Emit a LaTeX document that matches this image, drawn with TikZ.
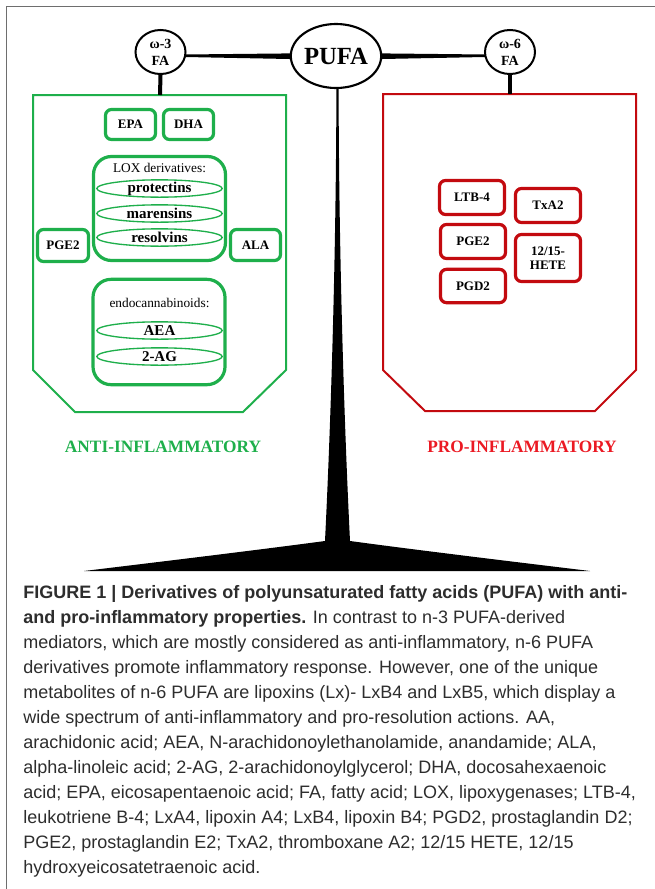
\documentclass[tikz,border=0pt]{standalone}
\usepackage{fontspec}
\setmainfont{Liberation Serif}
\newfontfamily\capfont{Liberation Sans}
\usetikzlibrary{shapes.geometric}
\definecolor{grn}{RGB}{30,175,75}
\definecolor{dred}{RGB}{195,10,15}
\definecolor{bred}{RGB}{235,25,35}
\definecolor{framegray}{RGB}{110,110,110}
\definecolor{captxt}{RGB}{45,45,45}
\begin{document}
\begin{tikzpicture}[x=0.75pt,y=-0.75pt,
  facircle/.style={ellipse,draw=black,line width=1.5pt,fill=white,minimum width=37.5pt,minimum height=33pt,inner sep=0pt},
  fatxt/.style={inner sep=0pt,align=center,font=\bfseries\fontsize{10.5}{12.75}\selectfont},
  pufanode/.style={ellipse,draw=black,line width=1.6pt,fill=white,minimum width=55.5pt,minimum height=48pt,inner sep=0pt,font=\bfseries\fontsize{18.5}{20}\selectfont},
  gbox/.style={draw=grn,line width=2.4pt,rounded corners=4.5pt,fill=white,inner sep=0pt,font=\bfseries\fontsize{9.75}{11}\selectfont},
  rbox/.style={draw=dred,line width=2.4pt,rounded corners=4.5pt,fill=white,inner sep=0pt,align=center,font=\bfseries\fontsize{9.75}{10.75}\selectfont,minimum width=48.75pt},
  bigbox/.style={draw=grn,line width=2.4pt,rounded corners=13.5pt,fill=white,inner sep=0pt,minimum width=99pt,minimum height=78pt},
  gell/.style={ellipse,draw=grn,line width=1pt,fill=white,inner sep=0pt,minimum width=94pt,minimum height=13pt},
  elltxt/.style={inner sep=0pt,font=\bfseries\fontsize{11.25}{12}\selectfont},
  hdtxt/.style={inner sep=0pt,font=\fontsize{10}{11}\selectfont},
  sidelabel/.style={inner sep=0pt,font=\bfseries\fontsize{13}{14}\selectfont},
  capline/.style={anchor=base west,inner sep=0pt,font=\capfont\fontsize{13.5}{18}\selectfont,text=captxt},
  stem/.style={line width=3pt}
]
\useasboundingbox (0,0) rectangle (655,889);
% frame
\draw[framegray,line width=1.1pt] (6.5,889) -- (6.5,6.5) -- (655,6.5);

% outer panels
\draw[grn,line width=1.5pt] (33,95) -- (286,95) -- (286,370) -- (243,412) -- (75,412) -- (33,370) -- cycle;
\draw[dred,line width=1.5pt] (383,94) -- (636,94) -- (636,370) -- (595,411) -- (425,411) -- (383,370) -- cycle;
\coordinate (gtop) at (160,95);
\coordinate (rtop) at (510,94);

% beam
\fill (175,54.6) -- (310,53.2) -- (310,59.4) -- (175,56.8) -- cycle;
\fill (495,54.6) -- (362,53.2) -- (362,59.4) -- (495,56.8) -- cycle;

% central stand
\fill (336.4,86) .. controls (336.2,250) and (331,420) .. (325,541)
  .. controls (250,551) and (150,563) .. (84,571) -- (590,571)
  .. controls (524,563) and (424,551) .. (350,541)
  .. controls (344,420) and (338.8,250) .. (338.6,86) -- cycle;

% circles
\node[facircle] (w3) at (160.5,52) {};
\node[fatxt] at (w3) {ω-3\\FA};
\node[facircle] (w6) at (510,52) {};
\node[fatxt] at (w6) {ω-6\\FA};
\node[pufanode] (pufa) at (336,56) {PUFA};
\draw[stem] (w3.south) -- (gtop);
\draw[stem] (w6.south) -- (rtop);

% green content
\node[gbox,minimum width=37.5pt,minimum height=22.5pt] (epa) at (130.5,124.5) {EPA};
\node[gbox,minimum width=37.5pt,minimum height=22.5pt] (dha) at (188.5,124.5) {DHA};
\node[gbox,minimum width=38.25pt,minimum height=24pt] (pge2l) at (63,245.5) {PGE2};
\node[gbox,minimum width=37.5pt,minimum height=23.25pt] (ala) at (255.5,245) {ALA};
\node[bigbox] (lox) at (159.5,208.5) {};
\node[hdtxt] (loxt) at (159.5,168) {LOX derivatives:};
\node[gell] (prot) at (159.5,188.5) {};
\node[elltxt] at (prot) {protectins};
\node[gell] (mar) at (159.5,213.5) {};
\node[elltxt] at (mar) {marensins};
\node[gell] (res) at (159.5,237.5) {};
\node[elltxt] at (res) {resolvins};
\node[bigbox,minimum height=79pt] (endo) at (159,332) {};
\node[hdtxt] (endot) at (159.5,303) {endocannabinoids:};
\node[gell] (aea) at (159.5,330.5) {};
\node[elltxt] at (aea) {AEA};
\node[gell] (ag) at (159.5,356.5) {};
\node[elltxt] at (ag) {2-AG};

% red content
\node[rbox,minimum height=25.5pt] (ltb) at (472,197.5) {LTB-4};
\node[rbox,minimum height=25.5pt] (pge2r) at (473,241.5) {PGE2};
\node[rbox,minimum height=25pt] (pgd2) at (473,286) {PGD2};
\node[rbox,minimum height=25.5pt] (txa) at (548,205.5) {TxA2};
\node[rbox,minimum height=35.25pt] (hete) at (548,258) {12/15-\\HETE};

% side labels
\node[sidelabel,text=grn] (anti) at (163,447) {ANTI-INFLAMMATORY};
\node[sidelabel,text=bred] (pro) at (522,447) {PRO-INFLAMMATORY};

% caption
\node[capline] (c1) at (23,598) {\bfseries FIGURE 1 | Derivatives of polyunsaturated fatty acids (PUFA) with anti-};
\node[capline] (c2) at (23,623) {\textbf{and pro-inflammatory properties.} In contrast to n-3 PUFA-derived};
\node[capline] (c3) at (23,648) {mediators, which are mostly considered as anti-inflammatory, n-6 PUFA};
\node[capline] (c4) at (23,673) {derivatives promote inflammatory response. However, one of the unique};
\node[capline] (c5) at (23,698) {metabolites of n-6 PUFA are lipoxins (Lx)- LxB4 and LxB5, which display a};
\node[capline] (c6) at (23,723) {wide spectrum of anti-inflammatory and pro-resolution actions. AA,};
\node[capline] (c7) at (23,748) {arachidonic acid; AEA, N-arachidonoylethanolamide, anandamide; ALA,};
\node[capline] (c8) at (23,773) {alpha-linoleic acid; 2-AG, 2-arachidonoylglycerol; DHA, docosahexaenoic};
\node[capline] (c9) at (23,798) {acid; EPA, eicosapentaenoic acid; FA, fatty acid; LOX, lipoxygenases; LTB-4,};
\node[capline] (c10) at (23,823) {leukotriene B-4; LxA4, lipoxin A4; LxB4, lipoxin B4; PGD2, prostaglandin D2;};
\node[capline] (c11) at (23,848) {PGE2, prostaglandin E2; TxA2, thromboxane A2; 12/15 HETE, 12/15};
\node[capline] (c12) at (23,873) {hydroxyeicosatetraenoic acid.};
\end{tikzpicture}
\end{document}
